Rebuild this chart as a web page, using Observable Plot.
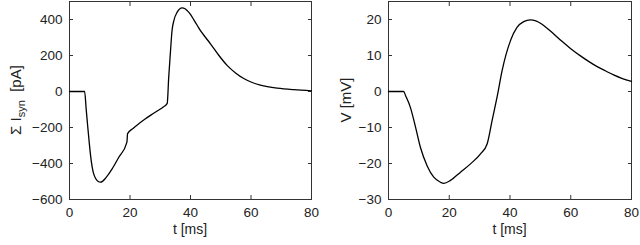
<!DOCTYPE html>
<html>
<head>
<meta charset="utf-8">
<script src="https://cdn.jsdelivr.net/npm/d3@7"></script>
<script src="https://cdn.jsdelivr.net/npm/@observablehq/plot@0.6"></script>
<style>
  html, body { margin: 0; padding: 0; background: #fff; }
  #wrap { display: flex; width: 640px; height: 245px; }
  #wrap svg { display: block; }
</style>
</head>
<body>
<div id="wrap"></div>
<script>
// Time ticks shared by both panels
const xTicks = [0, 20, 40, 60, 80];

// Left panel: summed synaptic current (pA)
const tCurrent = [0, 5.0, 5.5, 6.0, 6.5, 7.0, 7.5, 8.0, 8.7, 9.5, 10.2, 11.0, 12.0, 14.1, 16.3, 18.9, 19.0, 19.2, 21, 23, 25, 27, 29, 31, 32.3, 32.8, 33.4, 33.9, 34.5, 35.6, 37.2, 38.2, 39.0, 40.0, 41.1, 42.2, 43.3, 45.0, 46.6, 49.4, 52.1, 54.9, 57.6, 60.4, 63.1, 68.7, 74.2, 80];
const iSyn = [0, 0, -95, -190, -280, -360, -420, -458, -485, -500, -504, -498, -480, -430, -365, -285, -278, -234, -205, -178, -153, -130, -108, -86, -66, 80, 228, 339, 394, 441, 465, 460, 448, 428, 398, 368, 338, 300, 265, 200, 145, 103, 72, 50, 36, 19, 10, 4];
const iTicks = [-600, -400, -200, 0, 200, 400];
const iDomain = [-600, 500];

// Right panel: membrane voltage (mV)
const tVolt = [0, 5.0, 5.6, 7.2, 8.9, 10.5, 12.7, 14.9, 17.1, 18.2, 20.4, 23.7, 27, 30.3, 32.5, 34.1, 35.8, 37.4, 40.1, 42.3, 44.5, 46.7, 48.5, 50.3, 52.2, 54.5, 57, 60, 63.2, 66, 68.7, 71.5, 74.1, 77, 80];
const vMem = [0, 0, -1.1, -4.4, -9.9, -15.5, -20.6, -23.8, -25.2, -25.5, -24.7, -22.4, -20.1, -17.3, -14.5, -8.1, -1.3, 5.8, 14.0, 17.8, 19.4, 19.9, 19.6, 18.8, 17.6, 15.9, 14.0, 11.9, 9.9, 8.3, 6.9, 5.7, 4.6, 3.6, 2.8];
const vTicks = [-30, -20, -10, 0, 10, 20];
const vDomain = [-30, 25];

const FONT = "'Liberation Sans', Arial, Helvetica, sans-serif";
const INK = "#222";

function panel(ts, vs, yTicks, yDomain, marginLeft, labelParts, labelX) {
  const data = ts.map((t, i) => ({t, v: vs[i]}));
  const W = 320, H = 245, mT = 1, mB = 46, mR = 9;
  const plot = Plot.plot({
    width: W, height: H,
    marginLeft, marginRight: mR, marginTop: mT, marginBottom: mB,
    style: {fontFamily: FONT, fontSize: "13px", color: INK, background: "#fff"},
    x: {domain: [0, 80], label: null},
    y: {domain: yDomain, label: null},
    marks: [
      Plot.frame({stroke: "#333", strokeWidth: 1}),
      // tick labels
      Plot.axisX({ticks: xTicks, tickSize: 0, tickPadding: 8, label: null, fontSize: 13.5}),
      Plot.axisY({ticks: yTicks, tickSize: 0, tickPadding: 7, label: null, fontSize: 13.5}),
      // inward tick marks on all four sides
      Plot.axisX({ticks: xTicks, anchor: "bottom", tickSize: -4, tickFormat: () => "", label: null, stroke: "#333"}),
      Plot.axisX({ticks: xTicks, anchor: "top", tickSize: -4, tickFormat: () => "", label: null, stroke: "#333"}),
      Plot.axisY({ticks: yTicks, anchor: "left", tickSize: -4, tickFormat: () => "", label: null, stroke: "#333"}),
      Plot.axisY({ticks: yTicks, anchor: "right", tickSize: -4, tickFormat: () => "", label: null, stroke: "#333"}),
      Plot.line(data, {x: "t", y: "v", curve: "monotone-x", stroke: "#000", strokeWidth: 1.3})
    ]
  });
  const svg = d3.select(plot);
  // x axis title
  svg.append("text")
    .attr("x", marginLeft + (W - marginLeft - mR) / 2)
    .attr("y", H - 11)
    .attr("text-anchor", "middle")
    .attr("font-family", FONT).attr("font-size", 14).attr("fill", INK)
    .text("t [ms]");
  // y axis title (rotated, with optional subscript)
  const yc = mT + (H - mT - mB) / 2;
  const lab = svg.append("text")
    .attr("transform", `translate(${labelX},${yc}) rotate(-90)`)
    .attr("text-anchor", "middle")
    .attr("font-family", FONT).attr("font-size", 15).attr("fill", INK)
    .attr("xml:space", "preserve");
  labelParts.forEach(([txt, sub], i) => {
    const span = lab.append("tspan").text(txt);
    if (sub) span.attr("font-size", 11).attr("dy", "0.35em");
    else if (i > 0) span.attr("dy", "-0.26em");
  });
  return plot;
}

const wrap = document.getElementById("wrap");
wrap.appendChild(panel(tCurrent, iSyn, iTicks, iDomain, 69,
  [["\u03A3 I", false], ["syn", true], ["  [pA]", false]], 21));
wrap.appendChild(panel(tVolt, vMem, vTicks, vDomain, 68,
  [["V [mV]", false]], 31));
</script>
</body>
</html>
